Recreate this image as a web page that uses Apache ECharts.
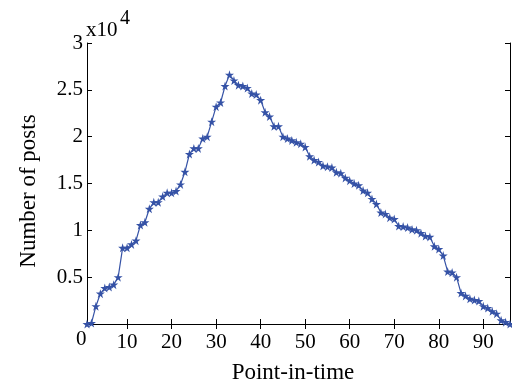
<!DOCTYPE html>
<html>
<head>
<meta charset="utf-8">
<script src="https://cdn.jsdelivr.net/npm/echarts@6/dist/echarts.min.js"></script>
<style>html,body{margin:0;padding:0;background:#fff}#c{width:512px;height:383px}</style>
</head>
<body>
<div id="c"></div>
<script>
const posts = [
  0, 100, 1900, 3240, 3840, 3950, 4200, 5000, 8130, 8130,
  8500, 8900, 10570, 10860, 12300, 13000, 13000, 13600, 14000, 14000,
  14200, 14900, 16250, 18150, 18750, 18750, 19800, 20000, 21600, 23200,
  23650, 25400, 26600, 26000, 25500, 25400, 25200, 24600, 24500, 23900,
  22600, 22150, 21100, 21100, 20000, 19800, 19600, 19400, 19250, 18900,
  17900, 17500, 17300, 16900, 16800, 16700, 16200, 16100, 15600, 15300,
  15000, 14800, 14250, 14000, 13350, 12800, 11900, 11750, 11350, 11200,
  10460, 10400, 10300, 10100, 10000, 9700, 9400, 9300, 8300, 8000,
  7300, 5600, 5500, 5000, 3300, 3000, 2700, 2550, 2450, 1900,
  1700, 1350, 1100, 400, 200, 0
];
const timePoints = posts.map((_, i) => i + 1);
const xTicks = [10, 20, 30, 40, 50, 60, 70, 80, 90];
const yTicks = [5000, 10000, 15000, 20000, 25000, 30000];
const xTitle = 'Point-in-time';
const yTitle = 'Number of posts';

const FONT = '"Liberation Serif", "Times New Roman", serif';
const lineColor = '#3552a6';
const star = 'path://M50,0 L61,35 L98,35 L68,57 L79,91 L50,70 L21,91 L32,57 L2,35 L39,35 Z';

const chart = echarts.init(document.getElementById('c'), null, {renderer: 'canvas'});
const axisLine = {show: true, lineStyle: {color: '#000', width: 1}};
chart.setOption({
  animation: false,
  backgroundColor: '#fff',
  grid: {left: 87, right: 2, top: 43, bottom: 59},
  xAxis: [{
    type: 'value', min: 1, max: 96, position: 'bottom',
    axisLine: axisLine,
    axisTick: {show: true, inside: true, length: 5, customValues: xTicks, lineStyle: {color: '#000'}},
    axisLabel: {customValues: xTicks, color: '#000', fontFamily: FONT, fontSize: 21, margin: 8},
    splitLine: {show: false}
  }, {
    type: 'value', min: 1, max: 96, position: 'top',
    axisLine: axisLine,
    axisTick: {show: true, inside: true, length: 5, customValues: xTicks, lineStyle: {color: '#000'}},
    axisLabel: {show: false},
    splitLine: {show: false}
  }],
  yAxis: [{
    type: 'value', min: 0, max: 30000, interval: 5000, position: 'left',
    axisLine: axisLine,
    axisTick: {show: true, inside: true, length: 5, customValues: yTicks, lineStyle: {color: '#000'}},
    axisLabel: {customValues: yTicks, color: '#000', fontFamily: FONT, fontSize: 21, margin: 4,
      padding: [6, 0, 0, 0], formatter: v => String(v / 10000)},
    splitLine: {show: false}
  }, {
    type: 'value', min: 0, max: 30000, interval: 5000, position: 'right',
    axisLine: axisLine,
    axisTick: {show: true, inside: true, length: 5, customValues: yTicks, lineStyle: {color: '#000'}},
    axisLabel: {show: false},
    splitLine: {show: false}
  }],
  graphic: [{
    type: 'text', left: 86, top: 20,
    style: {text: 'x10', fill: '#000', font: '21px ' + FONT}
  }, {
    type: 'text', left: 120, top: 9,
    style: {text: '4', fill: '#000', font: '20px ' + FONT}
  }, {
    type: 'text', left: 76, top: 329,
    style: {text: '0', fill: '#000', font: '21px ' + FONT}
  }, {
    type: 'text', x: 293, y: 373,
    style: {text: xTitle, fill: '#000', font: '23px ' + FONT, align: 'center', verticalAlign: 'middle'}
  }, {
    type: 'text', x: 29, y: 191, rotation: Math.PI / 2,
    style: {text: yTitle, fill: '#000', font: '23px ' + FONT, align: 'center', verticalAlign: 'middle'}
  }],
  series: [{
    type: 'line',
    xAxisIndex: 0, yAxisIndex: 0,
    data: timePoints.map((t, i) => [t, posts[i]]),
    symbol: star, symbolSize: 9,
    showAllSymbol: true,
    lineStyle: {color: lineColor, width: 1.2},
    itemStyle: {color: lineColor},
    clip: false
  }]
});
</script>
</body>
</html>
